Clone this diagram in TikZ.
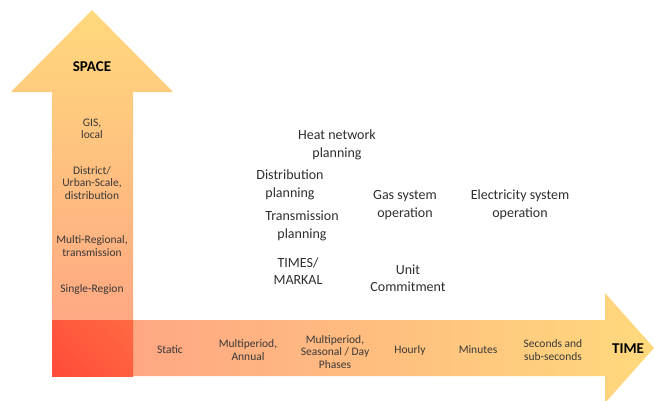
\documentclass[tikz,border=0pt]{standalone}
\usepackage{fontspec}
\setmainfont{Carlito}
\usetikzlibrary{positioning,shadings}
\definecolor{axisyellow}{HTML}{FFD97C}
\definecolor{axissalmon}{HTML}{FF9F84}
\definecolor{cornerred}{HTML}{FF4B3A}
\definecolor{cornerorange}{HTML}{FF6A42}

\begin{document}
\begin{tikzpicture}[x=1pt,y=-1pt,
  axislbl/.style={font=\fontsize{15}{17}\selectfont\bfseries,text=black},
  scalelbl/.style={align=center,font=\fontsize{11.5}{12.5}\selectfont,text=black!78},
  modellbl/.style={align=center,font=\fontsize{14}{17.5}\selectfont,text=black!82}
]
\useasboundingbox (0,0) rectangle (655,400);

% time axis
\shade[left color=axissalmon,right color=axisyellow]
  (52,320) -- (605,320) -- (605,293) -- (654,348) -- (605,403) -- (605,376) -- (52,376) -- cycle;
% space axis
\shade[top color=axisyellow,bottom color=axissalmon]
  (52,376) -- (52,92) -- (11,92) -- (92,10) -- (173,92) -- (133,92) -- (133,376) -- cycle;
% corner
\shade[lower left=cornerred,upper right=cornerorange,upper left=cornerred!60!cornerorange,
  lower right=cornerred!40!cornerorange] (52,320) rectangle (133,376);

\node[axislbl] (space) at (92,67) {SPACE};
\node[axislbl] (time)  at (628,349) {TIME};

% spatial scales
\node[scalelbl] (gis)      at (92,129) {GIS,\\local};
\node[scalelbl] (district) at (92,183) {District/\\Urban-Scale,\\distribution};
\node[scalelbl] (multireg) at (92,246) {Multi-Regional,\\transmission};
\node[scalelbl] (single)   at (92,289) {Single-Region};

% temporal scales
\node[scalelbl] (static)   at (170,350) {Static};
\node[scalelbl] (annual)   at (248,350) {Multiperiod,\\Annual};
\node[scalelbl] (seasonal) at (335,352) {Multiperiod,\\Seasonal / Day\\Phases};
\node[scalelbl] (hourly)   at (410,350) {Hourly};
\node[scalelbl] (minutes)  at (478,350) {Minutes};
\node[scalelbl] (seconds)  at (553,350) {Seconds and\\sub-seconds};

% models
\node[modellbl] (heat)    at (337,145) {Heat network\\planning};
\node[modellbl] (distrib) at (290,185) {Distribution\\planning};
\node[modellbl] (transm)  at (302,226) {Transmission\\planning};
\node[modellbl] (times)   at (298,271) {TIMES/\\MARKAL};
\node[modellbl] (gas)     at (405,205) {Gas system\\operation};
\node[modellbl] (elec)    at (520,205) {Electricity system\\operation};
\node[modellbl] (unit)    at (408,278) {Unit\\Commitment};
\end{tikzpicture}
\end{document}
